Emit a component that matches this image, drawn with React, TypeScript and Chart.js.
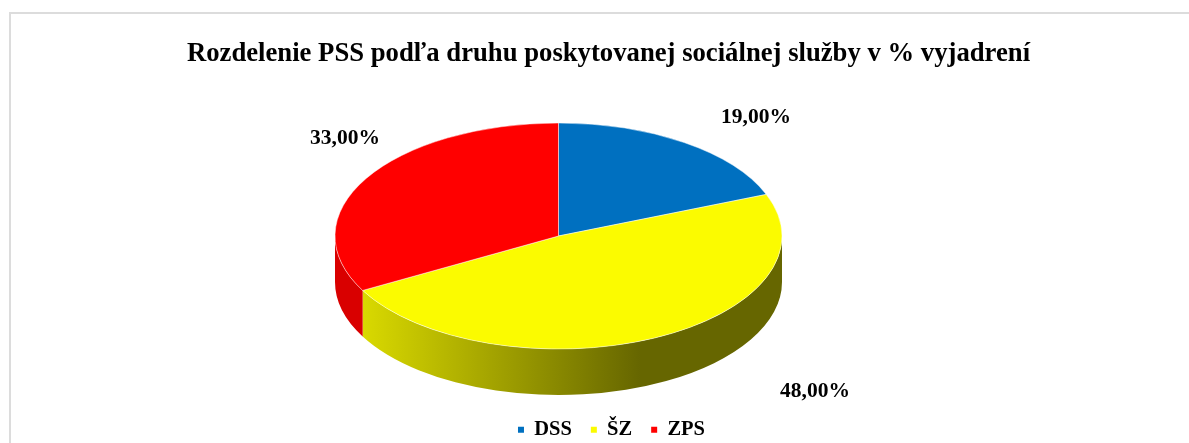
import React, { useEffect, useRef } from "react";
import { Chart, registerables } from "chart.js";

Chart.register(...registerables);

const titleText = "Rozdelenie PSS podľa druhu poskytovanej sociálnej služby v % vyjadrení";
const categories = ["DSS", "ŠZ", "ZPS"];
const shares = [19, 48, 33];
const colors = ["#0070C0", "#FBFB00", "#FF0000"];
const wallColors = ["#00487c", "#666600", "#d90000"];

const FONT = '"Liberation Serif", serif';
const PIE = { cx: 558.5, cy: 236, rx: 223.5, ry: 113, depth: 46 };
const LEGEND_SHIFT = { x: 3, y: 11 };
const labelOffsets = [
  { dx: 197.5, dy: -118.5 },
  { dx: 256.5, dy: 155.5 },
  { dx: -213.5, dy: -97.5 },
];

const pie3d = {
  id: "pie3d",
  afterLayout(chart: any) {
    const legend = chart.legend;
    legend.left += LEGEND_SHIFT.x;
    legend.right += LEGEND_SHIFT.x;
    legend.top += LEGEND_SHIFT.y;
    legend.bottom += LEGEND_SHIFT.y;
  },
  beforeDraw(chart: any) {
    const { ctx, width, height } = chart;
    ctx.save();
    ctx.fillStyle = "#ffffff";
    ctx.fillRect(0, 0, width, height);
    ctx.fillStyle = "#dcdcdc";
    ctx.fillRect(9, 12, width - 9, 2);
    ctx.fillRect(9, 12, 2, height - 12);
    ctx.restore();
  },
  beforeDatasetsDraw(chart: any) {
    const { ctx } = chart;
    const arcs = chart.getDatasetMeta(0).data;
    const { cx, cy, rx, ry, depth } = PIE;
    ctx.save();
    arcs.forEach((arc: any, i: number) => {
      const a1 = Math.max(arc.startAngle, 0);
      const a2 = Math.min(arc.endAngle, Math.PI);
      if (a2 <= a1) return;
      ctx.beginPath();
      ctx.ellipse(cx, cy, rx, ry, 0, a1, a2);
      ctx.ellipse(cx, cy + depth, rx, ry, 0, a2, a1, true);
      ctx.closePath();
      if (i === 1) {
        const g = ctx.createLinearGradient(361, 0, 640, 0);
        g.addColorStop(0, "#dada00");
        g.addColorStop(1, wallColors[i]);
        ctx.fillStyle = g;
      } else {
        ctx.fillStyle = wallColors[i];
      }
      ctx.fill();
    });
    ctx.restore();
    ctx.save();
    const first = arcs[0];
    ctx.translate(cx, cy);
    ctx.scale(1, ry / rx);
    ctx.translate(-first.x, -first.y);
  },
  afterDatasetsDraw(chart: any) {
    const { ctx } = chart;
    ctx.restore();
    ctx.save();
    ctx.fillStyle = "#000000";
    ctx.font = `bold 21.5px ${FONT}`;
    ctx.textAlign = "center";
    ctx.textBaseline = "middle";
    shares.forEach((v, i) => {
      const o = labelOffsets[i];
      ctx.fillText(`${v.toFixed(2).replace(".", ",")}%`, PIE.cx + o.dx, PIE.cy + o.dy);
    });
    ctx.restore();
  },
};

export default function App() {
  const ref = useRef<HTMLCanvasElement>(null);
  useEffect(() => {
    const chart = new Chart(ref.current as HTMLCanvasElement, {
      type: "pie",
      data: {
        labels: categories,
        datasets: [
          {
            data: shares,
            backgroundColor: colors,
            borderColor: "rgba(255,255,255,0.65)",
            borderWidth: 1,
            radius: PIE.rx,
            clip: false,
          } as any,
        ],
      },
      options: {
        responsive: false,
        animation: false,
        layout: { padding: { left: 28, right: 0, top: 30, bottom: 4 } },
        plugins: {
          tooltip: { enabled: false },
          title: {
            display: true,
            text: titleText,
            color: "#000000",
            font: { family: FONT, size: 26.7, weight: "bold" },
            padding: { top: 8, bottom: 0 },
          },
          legend: {
            display: true,
            position: "bottom",
            labels: {
              color: "#000000",
              font: { family: FONT, size: 20.5, weight: "bold" },
              boxWidth: 6,
              boxHeight: 6,
              padding: 19,
              generateLabels(c: any) {
                return Chart.overrides.pie.plugins.legend.labels
                  .generateLabels(c)
                  .map((l: any) => ({ ...l, lineWidth: 0 }));
              },
            },
          },
        },
      } as any,
      plugins: [pie3d],
    });
    return () => chart.destroy();
  }, []);
  return (
    <canvas
      ref={ref}
      width={1189}
      height={443}
      style={{ position: "absolute", left: 0, top: 0, display: "block" }}
    />
  );
}
